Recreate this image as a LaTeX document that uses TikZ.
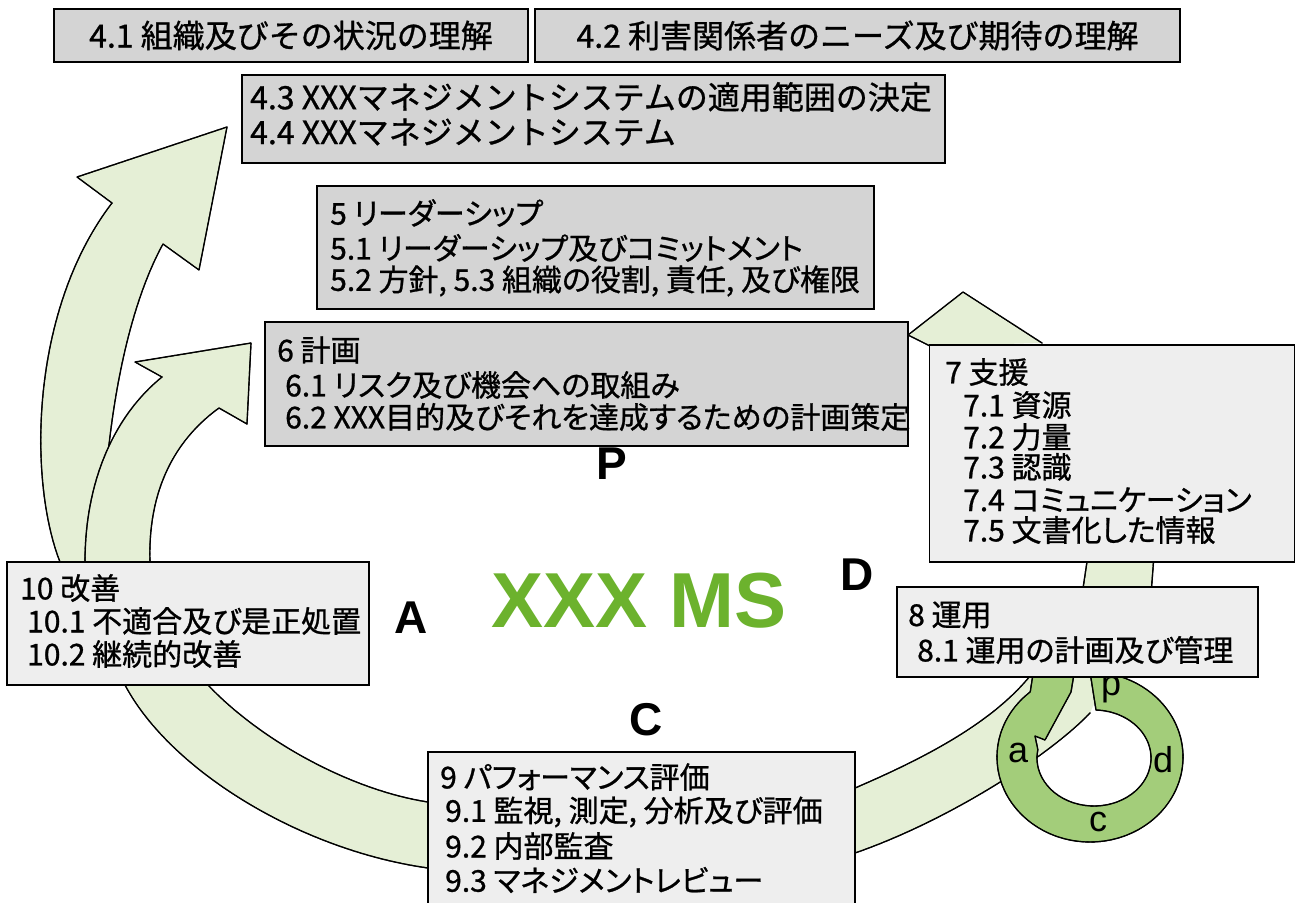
\documentclass[tikz,border=0pt]{standalone}
\usepackage{fontspec}
\setmainfont{Noto Sans CJK JP}[RawFeature=+palt, FakeBold=0.9]
\newfontfamily\jpw{Noto Sans CJK JP}[FakeBold=0.9]
\newfontfamily\latb{Liberation Sans}
\usetikzlibrary{calc,decorations.markings}
\definecolor{bandg}{RGB}{229,239,214}
\definecolor{ringg}{RGB}{163,205,122}
\definecolor{msgreen}{RGB}{108,178,45}
\definecolor{boxdark}{RGB}{212,212,212}
\definecolor{boxlight}{RGB}{238,238,238}
\tikzset{
  bandfill/.style={fill=bandg},
  ringfill/.style={fill=ringg},
  outl/.style={draw=black, line width=1.2pt, line cap=round, line join=round,
    postaction={decorate, decoration={markings,
      mark=between positions 0 and 1 step 1.2pt with {\fill[black] (0,0) circle (0.8pt);}}}},
  boxd/.style={draw=black, line width=1.5pt, fill=boxdark, inner sep=0pt},
  boxl/.style={draw=black, line width=1.5pt, fill=boxlight, inner sep=0pt},
  txt/.style={anchor=west, inner sep=0pt, font=\fontsize{30}{36}\selectfont},
  txtbig/.style={inner sep=0pt, font=\jpw\fontsize{32}{38}\selectfont},
  lbl/.style={inner sep=0pt, font=\latb\bfseries\fontsize{46}{50}\selectfont},
  ringlbl/.style={inner sep=0pt, font=\latb\fontsize{36}{40}\selectfont},
}
\begin{document}
\begin{tikzpicture}[x=1pt,y=1pt]
\useasboundingbox (0,0) rectangle (1297,-902);
\fill[white] (0,0) rectangle (1297,-902);

% ---- bands (arrows): fill, then outline ----
\fill[bandfill] (70,-620) -- (125,-685) .. controls (170,-770) and (300,-850) .. (428,-868)
  -- (520,-870) -- (520,-795) -- (428,-802) .. controls (350,-790) and (260,-740) .. (208,-685)
  -- (165,-620) -- cycle;
\draw[outl] (125,-685) .. controls (170,-770) and (300,-850) .. (428,-868);
\draw[outl] (428,-802) .. controls (350,-790) and (260,-740) .. (208,-685);

\fill[bandfill] (60,-620) -- (60,-562) .. controls (28,-480) and (30,-310) .. (112,-203)
  -- (77,-177) -- (227,-127) -- (199,-270) -- (163,-244)
  .. controls (135,-295) and (112,-380) .. (104,-500) -- (100,-620) -- cycle;
\draw[outl] (60,-562) .. controls (28,-480) and (30,-310) .. (112,-203)
  -- (77,-177) -- (227,-127) -- (199,-270) -- (163,-244)
  .. controls (135,-295) and (112,-380) .. (104,-500);

\fill[bandfill] (85,-620) -- (85,-562) .. controls (85,-480) and (115,-415) .. (162,-377)
  -- (135,-362) -- (251,-343) -- (247,-424) -- (219,-408)
  .. controls (168,-445) and (148,-500) .. (150,-562) -- (150,-620) -- cycle;
\draw[outl] (85,-562) .. controls (85,-480) and (115,-415) .. (162,-377)
  -- (135,-362) -- (251,-343) -- (247,-424) -- (219,-408)
  .. controls (168,-445) and (148,-500) .. (150,-562);

\fill[bandfill] (908,-335) -- (963,-292) -- (1042,-343) -- (930,-346) -- cycle;
\draw[outl] (930,-346) -- (908,-335) -- (963,-292) -- (1042,-343);

\fill[bandfill] (1088,-555) -- (1082,-595) -- (1151,-595) -- (1154,-555) -- cycle;
\draw[outl] (1088,-555) -- (1082,-595);
\draw[outl] (1154,-555) -- (1151,-595);

\fill[bandfill] (800,-800) -- (855,-788) .. controls (920,-760) and (990,-725) .. (1030,-676)
  -- (1035,-640) -- (1100,-640) -- (1100,-690) -- (1090,-713)
  .. controls (1050,-755) and (950,-820) .. (855,-853) -- (800,-860) -- cycle;
\draw[outl] (855,-788) .. controls (920,-760) and (990,-725) .. (1030,-676);
\draw[outl] (1090,-713) .. controls (1050,-755) and (950,-820) .. (855,-853);

% ---- pdca ring ----
\coordinate (rc1) at (1090,-757);
\coordinate (rc2) at (1094,-758);
\fill[ringfill] ($(rc1)+(90:93 and 85)$) arc[start angle=90, end angle=-230, x radius=93, y radius=85]
  -- (1033,-674) -- (1074,-674) -- (1071,-692) -- (1045,-740) -- (1035,-736)
  -- ($(rc2)+(-190:57 and 48)$) arc[start angle=-190, end angle=88, x radius=57, y radius=48]
  -- cycle;
\draw[outl] ($(rc1)+(90:93 and 85)$) arc[start angle=90, end angle=-230, x radius=93, y radius=85]
  -- (1033,-674) -- (1074,-674) -- (1071,-692) -- (1045,-740) -- (1035,-736)
  -- ($(rc2)+(-190:57 and 48)$) arc[start angle=-190, end angle=88, x radius=57, y radius=48]
  -- cycle;
\node[ringlbl] (lp) at (1111,-690) {p};
\node[ringlbl] (ld) at (1163,-760) {d};
\node[ringlbl] (lc) at (1098,-822) {c};
\node[ringlbl] (la) at (1018,-753) {a};

% ---- boxes ----
\node[boxd, minimum width=474pt, minimum height=53pt] (b41) at (291,-35.5) {};
\node[txtbig] (t41) at (291,-35.5) {4.1 組織及びその状況の理解};
\node[boxd, minimum width=645pt, minimum height=53pt] (b42) at (857.5,-35.5) {};
\node[txtbig] (t42) at (857.5,-35.5) {4.2 利害関係者のニーズ及び期待の理解};

\node[boxd, minimum width=703pt, minimum height=88pt] (b43) at (593.5,-119) {};
\node[txtbig, anchor=west] (t43) at (250,-97) {4.3 XXXマネジメントシステムの適用範囲の決定};
\node[txtbig, anchor=west] (t44) at (250,-132) {4.4 XXXマネジメントシステム};

\node[boxd, minimum width=557pt, minimum height=123pt] (b5) at (595.5,-247.5) {};
\node[txt] (t5) at (330,-213) {5 リーダーシップ};
\node[txt] (t51) at (330,-248) {5.1 リーダーシップ及びコミットメント};
\node[txt] (t52) at (330,-281) {5.2 方針, 5.3 組織の役割, 責任, 及び権限};

\node[boxd, minimum width=643pt, minimum height=124pt] (b6) at (586.5,-384) {};
\node[txt] (t6) at (277,-350) {6 計画};
\node[txt] (t61) at (285,-385) {6.1 リスク及び機会への取組み};
\node[txt] (t62) at (285,-417) {6.2 XXX目的及びそれを達成するための計画策定};

\node[boxl, minimum width=365pt, minimum height=217pt] (b7) at (1112,-453.5) {};
\node[txt] (t7) at (945,-372) {7 支援};
\node[txt] (t71) at (963,-405) {7.1 資源};
\node[txt] (t72) at (963,-437) {7.2 力量};
\node[txt] (t73) at (963,-467) {7.3 認識};
\node[txt] (t74) at (963,-500) {7.4 コミュニケーション};
\node[txt] (t75) at (963,-530) {7.5 文書化した情報};

\node[boxl, minimum width=361pt, minimum height=90pt] (b8) at (1077.5,-632) {};
\node[txt] (t8) at (908,-615) {8 運用};
\node[txt] (t81) at (917,-650) {8.1 運用の計画及び管理};

\node[boxl, minimum width=362pt, minimum height=123pt] (b10) at (188,-623.5) {};
\node[txt] (t10) at (20,-588) {10 改善};
\node[txt] (t101) at (27,-621) {10.1 不適合及び是正処置};
\node[txt] (t102) at (27,-654) {10.2 継続的改善};

\node[boxl, minimum width=427pt, minimum height=163pt] (b9) at (641.5,-833.5) {};
\node[txt] (t9) at (440,-777) {9 パフォーマンス評価};
\node[txt] (t91) at (445,-812) {9.1 監視, 測定, 分析及び評価};
\node[txt] (t92) at (445,-846) {9.2 内部監査};
\node[txt] (t93) at (445,-880) {9.3 マネジメントレビュー};

% ---- labels ----
\node[lbl] (lP) at (612,-464) {P};
\node[lbl] (lA) at (411,-618) {A};
\node[lbl] (lC) at (646,-720) {C};
\node[lbl] (lD) at (857,-575) {D};
\node[inner sep=0pt, text=msgreen, font=\latb\bfseries\fontsize{78}{80}\selectfont] (ms) at (639,-601) {XXX MS};
\end{tikzpicture}
\end{document}
